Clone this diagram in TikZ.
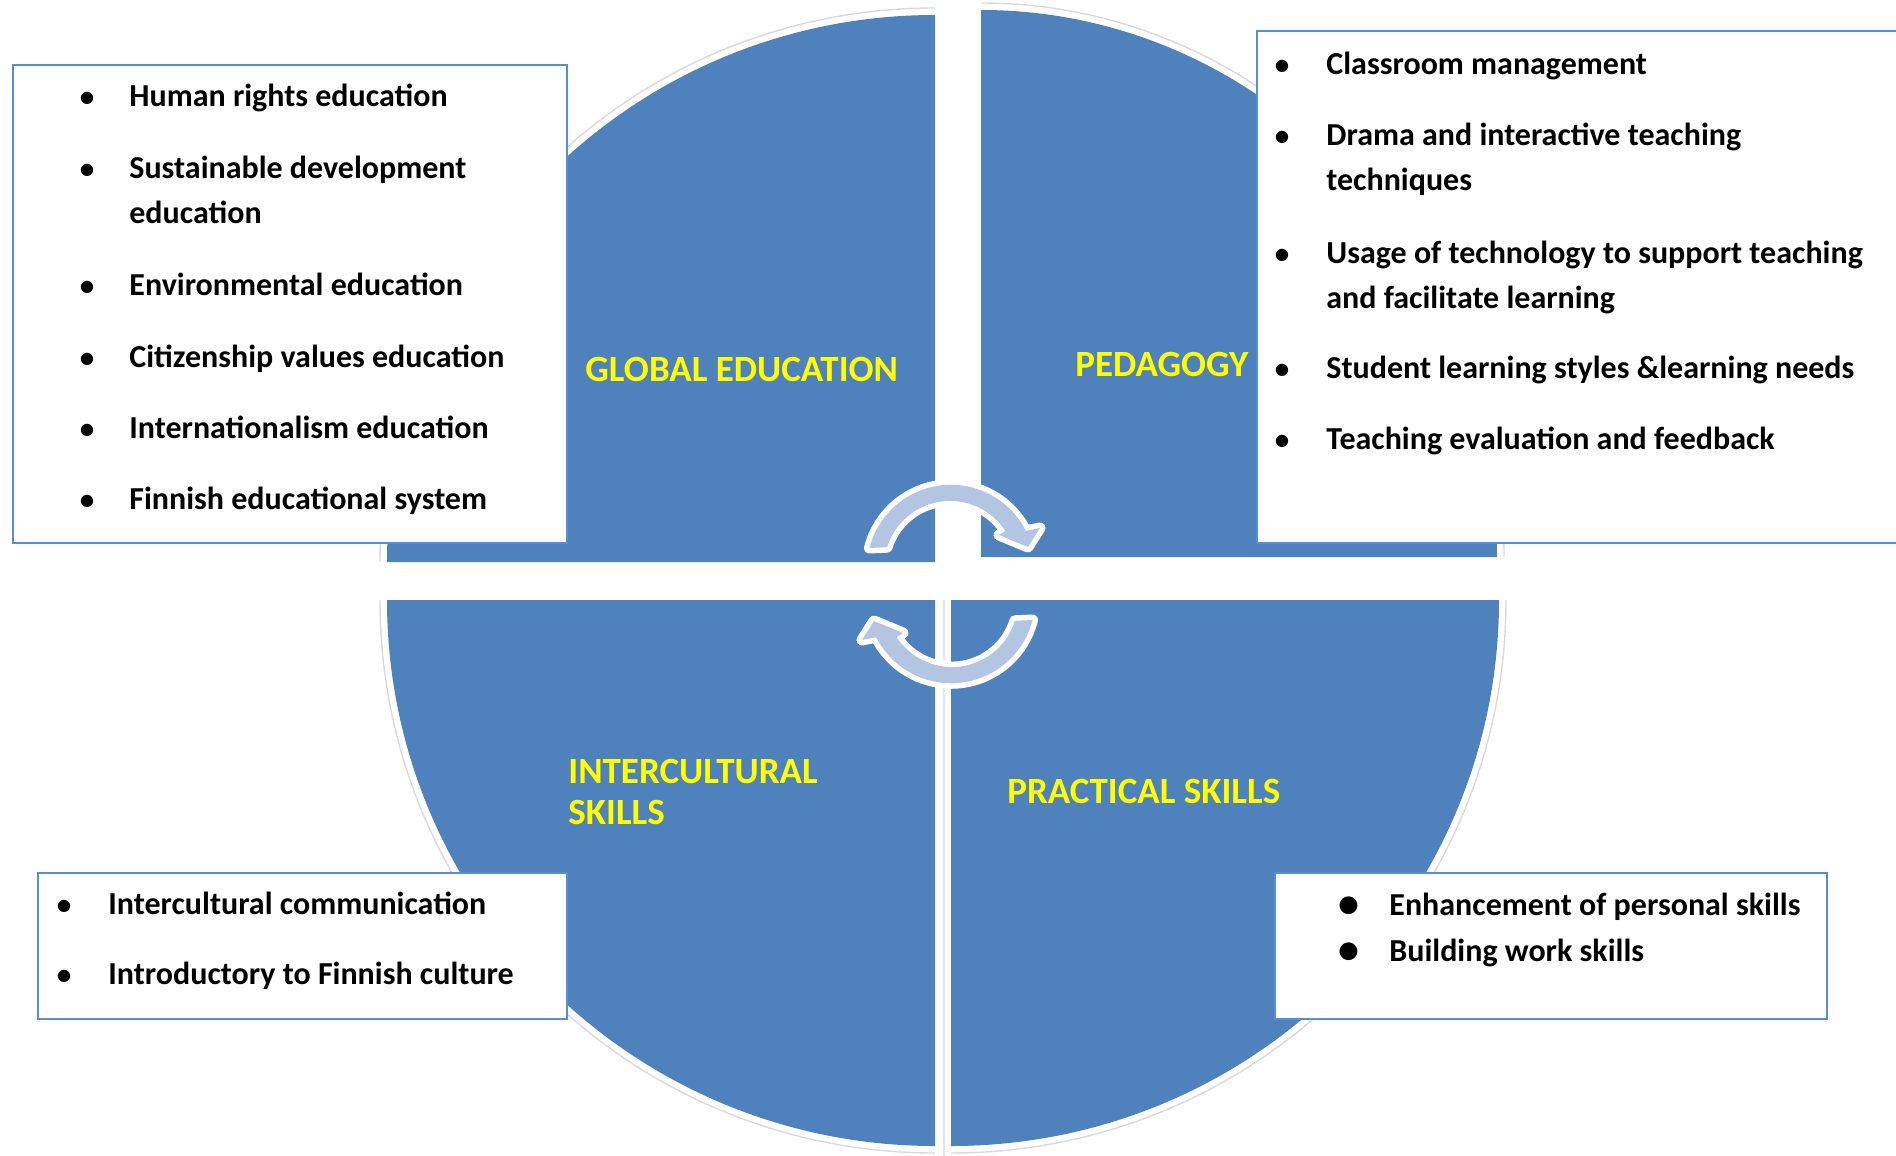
\documentclass[tikz,border=0pt]{standalone}
\usepackage{fontspec}
\setmainfont{Carlito}
\usetikzlibrary{fit}
\definecolor{qblue}{RGB}{79,129,189}
\definecolor{boxblue}{RGB}{85,142,213}
\definecolor{arrfill}{RGB}{180,197,225}
\definecolor{labyellow}{RGB}{255,255,0}
\begin{document}
\begin{tikzpicture}[x=0.5pt,y=-0.5pt,
  quad/.style={fill=qblue},
  ring/.style={draw=gray!30, line width=0.7pt},
  infobox/.style={draw=boxblue, line width=1.25pt, fill=white, inner sep=0pt},
  item/.style={anchor=base west, inner sep=0pt, align=left, font=\fontsize{16}{22.5}\selectfont\bfseries},
  bul/.style={anchor=base, inner sep=0pt, font=\fontsize{14.5}{22.5}\selectfont\bfseries},
  bigbul/.style={anchor=base, inner sep=0pt, font=\fontsize{21}{22.5}\selectfont\bfseries},
  lab/.style={anchor=base west, inner sep=0pt, align=left, text=labyellow, font=\fontsize{18.5}{20.5}\selectfont\bfseries},
  arrowout/.style={draw=white, line width=5.5pt, line join=round, fill=white},
  arrowin/.style={fill=arrfill}
]
\useasboundingbox (0,0) rectangle (1896,1156);
% quadrants
\fill[quad] (935,562) -- (387,562) arc[start angle=180, end angle=270, x radius=548, y radius=547] -- cycle;
\fill[quad] (981,557) -- (981,10) arc[start angle=270, end angle=360, x radius=516, y radius=547] -- cycle;
\fill[quad] (935,600) -- (387,600) arc[start angle=180, end angle=90, x radius=548, y radius=546] -- cycle;
\fill[quad] (951,600) -- (1499,600) arc[start angle=0, end angle=90, x radius=548, y radius=546] -- cycle;
% faint outer rings
\draw[ring] (380,562) arc[start angle=180, end angle=270, x radius=555, y radius=554];
\draw[ring] (981,3) arc[start angle=270, end angle=360, x radius=523, y radius=554];
\draw[ring] (380,600) arc[start angle=180, end angle=90, x radius=555, y radius=553];
\draw[ring] (1506,600) arc[start angle=0, end angle=90, x radius=555, y radius=553];
\draw[draw=gray!20, line width=0.8pt] (944,600) -- (944,1156);
% cycle arrows
\path[arrowout] (869.5,548) arc[start angle=-165.7, end angle=-26.8, radius=84] -- (1040,528) -- (1028,547) -- (999,535) -- (1005.4,531) arc[start angle=-33, end angle=-162.6, radius=66] -- cycle;
\path[arrowin] (869.5,548) arc[start angle=-165.7, end angle=-26.8, radius=84] -- (1040,528) -- (1028,547) -- (999,535) -- (1005.4,531) arc[start angle=-33, end angle=-162.6, radius=66] -- cycle;
\begin{scope}[rotate around={180:(951,584)}]
\path[arrowout] (869.5,548) arc[start angle=-165.7, end angle=-26.8, radius=84] -- (1040,528) -- (1028,547) -- (999,535) -- (1005.4,531) arc[start angle=-33, end angle=-162.6, radius=66] -- cycle;
\path[arrowin] (869.5,548) arc[start angle=-165.7, end angle=-26.8, radius=84] -- (1040,528) -- (1028,547) -- (999,535) -- (1005.4,531) arc[start angle=-33, end angle=-162.6, radius=66] -- cycle;
\end{scope}
% boxes
\node[infobox, fit={(13,65) (567,543)}] (boxGE) {};
\node[infobox, fit={(1257,31) (1910,543)}] (boxPE) {};
\node[infobox, fit={(38,873) (567,1019)}] (boxIS) {};
\node[infobox, fit={(1275,873) (1827,1019)}] (boxPS) {};
% global education items (multi-line nodes: base = last line)
\foreach \yy/\nm in {107/a,178/b,295/c,367/d,438/e,509/f} \node[bul] (geb\nm) at (87,\yy) {•};
\node[item] (ge1) at (129,107) {Human rights education};
\node[item] (ge2) at (129,223) {Sustainable development\\education};
\node[item] (ge3) at (129,295) {Environmental education};
\node[item] (ge4) at (129,367) {Citizenship values education};
\node[item] (ge5) at (129,438) {Internationalism education};
\node[item] (ge6) at (129,509) {Finnish educational system};
% pedagogy items
\foreach \yy/\nm in {75/a,146/b,263/c,378/d,449/e} \node[bul] (peb\nm) at (1282,\yy) {•};
\node[item] (pe1) at (1326,75) {Classroom management};
\node[item] (pe2) at (1326,191) {Drama and interactive teaching\\techniques};
\node[item] (pe3) at (1326,308) {Usage of technology to support teaching\\and facilitate learning};
\node[item] (pe4) at (1326,378) {Student learning styles \&learning needs};
\node[item] (pe5) at (1326,449) {Teaching evaluation and feedback};
% intercultural items
\node[bul] (isba) at (64,914) {•};
\node[bul] (isbb) at (64,984) {•};
\node[item] (is1) at (108,914) {Intercultural communication};
\node[item] (is2) at (108,984) {Introductory to Finnish culture};
% practical items
\node[bigbul] (psba) at (1349,917) {•};
\node[bigbul] (psbb) at (1349,963) {•};
\node[item] (ps1) at (1389,915) {Enhancement of personal skills};
\node[item] (ps2) at (1389,961) {Building work skills};
% labels
\node[lab] (lGE) at (585,381) {GLOBAL EDUCATION};
\node[lab] (lPE) at (1075,376) {PEDAGOGY};
\node[lab] (lIS) at (568,824) {INTERCULTURAL\\SKILLS};
\node[lab] (lPS) at (1007,803) {PRACTICAL SKILLS};
\end{tikzpicture}
\end{document}
